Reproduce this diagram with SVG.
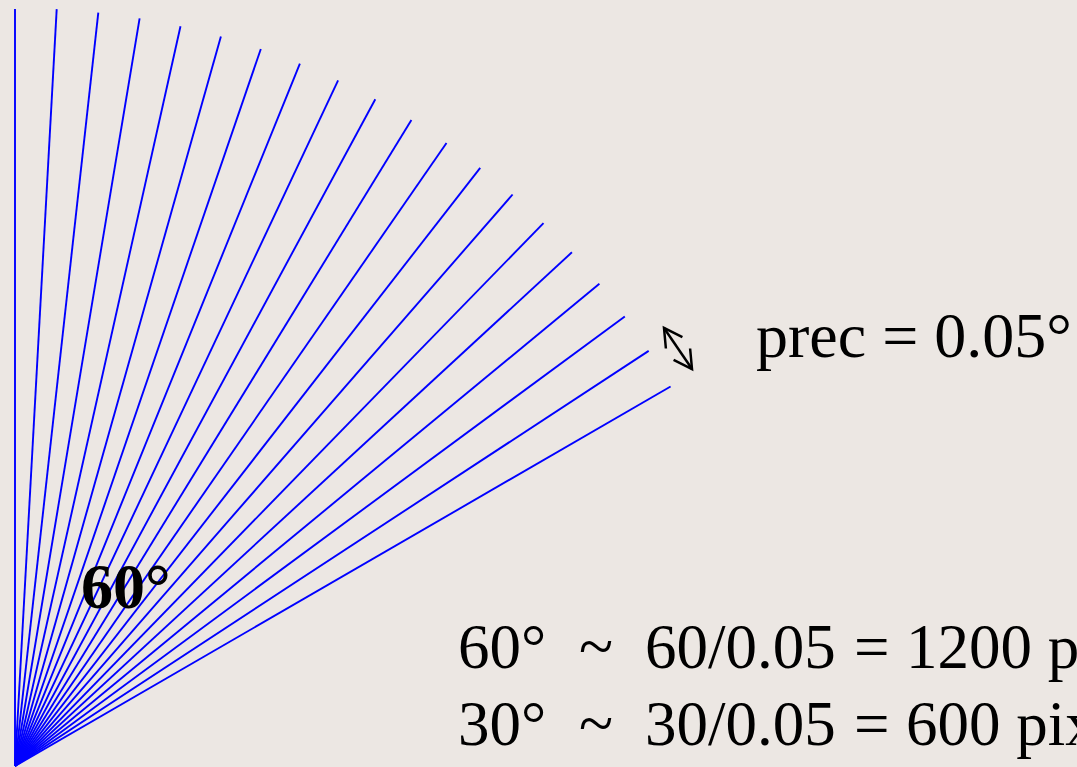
<svg xmlns="http://www.w3.org/2000/svg" width="1077" height="767" viewBox="0 0 1077 767">
  <style>
    .ray { stroke: #0000ff; stroke-width: 1.9; fill: none; stroke-linecap: butt; }
    .txt { font-family: "Liberation Serif", "Times New Roman", serif; font-size: 63px; fill: #000000; }
    .big { font-size: 64px; }
    .bold { font-weight: bold; font-size: 64px; }
    .arr { stroke: #000000; stroke-width: 2.5; fill: none; }
  </style>
  <defs>
    <marker id="chev" markerUnits="userSpaceOnUse" markerWidth="30" markerHeight="30" refX="0" refY="0" orient="auto-start-reverse" overflow="visible">
      <path d="M-18,-10 L0,0 L-18,10" fill="none" stroke="#000000" stroke-width="2.5" stroke-linejoin="miter"/>
    </marker>
  </defs>
  <rect x="0" y="0" width="1077" height="767" fill="#ece7e3"/>
  <g id="fan">
    <line class="ray" x1="15" y1="766" x2="15" y2="9"/>
    <line class="ray" x1="15" y1="766" x2="56.7" y2="9.1"/>
    <line class="ray" x1="15" y1="766" x2="98.3" y2="12.6"/>
    <line class="ray" x1="15" y1="766" x2="139.6" y2="18.3"/>
    <line class="ray" x1="15" y1="766" x2="180.5" y2="26.3"/>
    <line class="ray" x1="15" y1="766" x2="220.9" y2="36.6"/>
    <line class="ray" x1="15" y1="766" x2="260.8" y2="49.0"/>
    <line class="ray" x1="15" y1="766" x2="299.9" y2="63.6"/>
    <line class="ray" x1="15" y1="766" x2="338.1" y2="80.4"/>
    <line class="ray" x1="15" y1="766" x2="375.3" y2="99.2"/>
    <line class="ray" x1="15" y1="766" x2="411.4" y2="120.1"/>
    <line class="ray" x1="15" y1="766" x2="446.5" y2="143.0"/>
    <line class="ray" x1="15" y1="766" x2="480.2" y2="167.8"/>
    <line class="ray" x1="15" y1="766" x2="512.6" y2="194.5"/>
    <line class="ray" x1="15" y1="766" x2="543.5" y2="223.1"/>
    <line class="ray" x1="15" y1="766" x2="571.9" y2="252.3"/>
    <line class="ray" x1="15" y1="766" x2="599.4" y2="283.8"/>
    <line class="ray" x1="15" y1="766" x2="624.8" y2="316.4"/>
    <line class="ray" x1="15" y1="766" x2="648.7" y2="350.9"/>
    <line class="ray" x1="15" y1="766" x2="670.6" y2="386.5"/>
  </g>
  <g id="connectors">
    <line class="arr" x1="664" y1="328" x2="692" y2="369" marker-start="url(#chev)" marker-end="url(#chev)"/>
  </g>
  <g id="label-angle">
    <text class="txt bold" x="81" y="608">60°</text>
  </g>
  <g id="label-prec">
    <text class="txt big" x="756" y="357">prec = 0.05°</text>
  </g>
  <g id="label-formula">
    <text class="txt" y="668"><tspan x="458">60°</tspan><tspan x="579">~</tspan><tspan x="645">60/0.05</tspan><tspan x="854">=</tspan><tspan x="906">1200 p</tspan></text>
    <text class="txt" y="745"><tspan x="458">30°</tspan><tspan x="579">~</tspan><tspan x="645">30/0.05</tspan><tspan x="854">=</tspan><tspan x="906">600 pix</tspan></text>
  </g>
</svg>
